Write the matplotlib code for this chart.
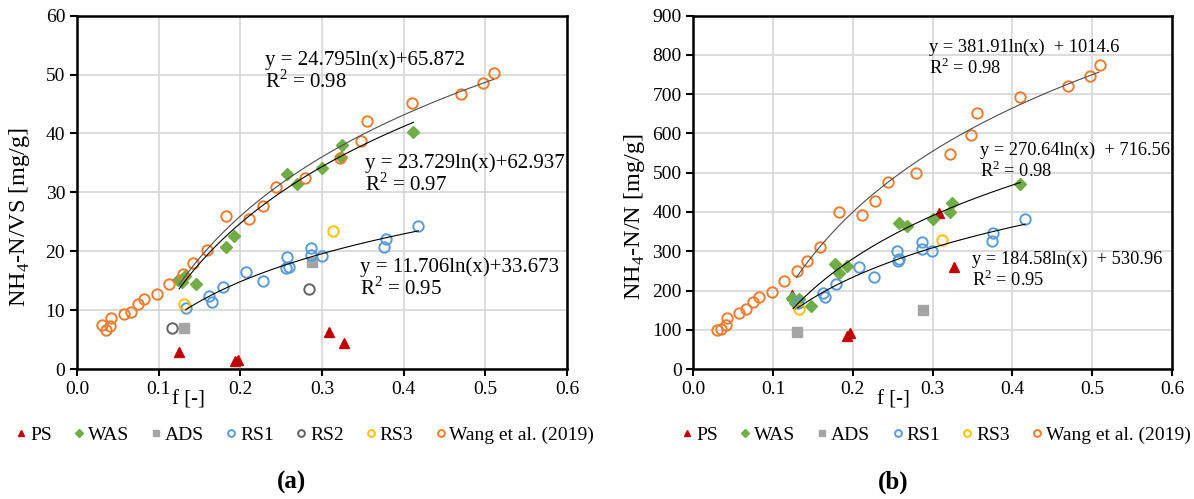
import numpy as np
import matplotlib.pyplot as plt

plt.rcParams['font.family'] = ['Liberation Serif', 'DejaVu Serif']
plt.rcParams['mathtext.fontset'] = 'custom'
plt.rcParams['mathtext.rm'] = 'Liberation Serif'

# ---- data (a): NH4-N/VS ----
wang_f = [0.030, 0.035, 0.041, 0.042, 0.057, 0.066, 0.075, 0.082, 0.098, 0.113, 0.130, 0.142, 0.159,
          0.183, 0.211, 0.228, 0.244, 0.279, 0.322, 0.348, 0.355, 0.410, 0.470, 0.497, 0.510]
wang_vs = [7.5, 6.6, 7.35, 8.6, 9.3, 9.7, 11.0, 11.9, 12.7, 14.4, 16.1, 18.0, 20.2,
           26.0, 25.5, 27.7, 30.9, 32.5, 35.9, 38.8, 42.1, 45.1, 46.7, 48.6, 50.3]
wang_n = [99, 101, 112, 129, 142, 153, 171, 184, 195, 224, 250, 276, 310,
          401, 392, 428, 476, 500, 549, 596, 651, 692, 722, 746, 774]

ps_f_a = [0.125, 0.193, 0.197, 0.309, 0.327]
ps_vs = [2.9, 1.3, 1.6, 6.3, 4.4]
was_f_a = [0.124, 0.129, 0.132, 0.146, 0.182, 0.192, 0.257, 0.269, 0.300, 0.323, 0.324, 0.412]
was_vs = [15.2, 14.7, 15.8, 14.4, 20.8, 22.6, 33.2, 31.4, 34.2, 36.0, 38.0, 40.3]
ads_f_a = [0.131, 0.288]
ads_vs = [7.0, 18.2]
rs1_f_a = [0.133, 0.162, 0.165, 0.179, 0.207, 0.228, 0.256, 0.259, 0.257, 0.286, 0.286, 0.300, 0.376, 0.378, 0.418]
rs1_vs = [10.3, 12.4, 11.4, 13.9, 16.4, 15.0, 17.2, 17.4, 19.1, 20.6, 19.3, 19.2, 20.8, 22.0, 24.3]
rs2_f_a = [0.116, 0.284]
rs2_vs = [7.0, 13.6]
rs3_f_a = [0.131, 0.314]
rs3_vs = [11.0, 23.4]

# ---- data (b): NH4-N/N ----
ps_f_b = [0.124, 0.193, 0.196, 0.308, 0.327]
ps_n = [188, 84, 93, 397, 259]
was_f_b = [0.124, 0.128, 0.133, 0.147, 0.178, 0.1825, 0.1925, 0.2575, 0.2675, 0.300, 0.322, 0.324, 0.410]
was_n = [180, 169, 178, 161, 267, 244, 262, 371, 364, 381, 399, 424, 471]
ads_f_b = [0.130, 0.288]
ads_n = [95, 150]
rs1_f_b = [0.131, 0.162, 0.165, 0.179, 0.2075, 0.227, 0.256, 0.2575, 0.255, 0.287, 0.286, 0.299, 0.374, 0.375, 0.416]
rs1_n = [167, 193, 183, 216, 261, 235, 275, 279, 301, 324, 306, 301, 326, 347, 382]
rs3_f_b = [0.1325, 0.312]
rs3_n = [152, 329]

# log trendlines: (slope, intercept, x start, x end)
fits_a = {'wang': (24.795, 65.872, 0.125, 0.51), 'was': (23.729, 62.937, 0.125, 0.412), 'rs1': (11.706, 33.673, 0.133, 0.418)}
fits_b = {'wang': (381.91, 1014.6, 0.129, 0.508), 'was': (270.64, 716.56, 0.125, 0.41), 'rs1': (184.58, 530.96, 0.131, 0.416)}

c_ps, c_was, c_ads = '#C00000', '#70AD47', '#A5A5A5'
c_rs1, c_rs2, c_rs3, c_wang = '#5B9BD5', '#636363', '#FFC000', '#ED7D31'

fig = plt.figure(figsize=(11.94, 4.99), dpi=100)
ax1 = fig.add_axes([0.0645, 0.2605, 0.4104, 0.708])
ax2 = fig.add_axes([0.5807, 0.2605, 0.4009, 0.708])

ms = 7.5
def scatter(ax, f, v, m, col, lab, filled=True, size=ms):
    if filled:
        ax.plot(f, v, ls='none', marker=m, ms=size, mfc=col, mec=col, label=lab, zorder=3)
    else:
        ax.plot(f, v, ls='none', marker='o', ms=size, mfc='none', mec=col, mew=1.4, label=lab, zorder=3)

def trend(ax, p, col='black'):
    a, b, x0, x1 = p
    xx = np.linspace(x0, x1, 100)
    ax.plot(xx, a * np.log(xx) + b, color=col, lw=0.8, zorder=4)

# panel a
scatter(ax1, ps_f_a, ps_vs, '^', c_ps, 'PS')
scatter(ax1, was_f_a, was_vs, 'D', c_was, 'WAS', size=6.5)
scatter(ax1, ads_f_a, ads_vs, 's', c_ads, 'ADS', size=6.5)
scatter(ax1, rs1_f_a, rs1_vs, 'o', c_rs1, 'RS1', False)
scatter(ax1, rs2_f_a, rs2_vs, 'o', c_rs2, 'RS2', False)
scatter(ax1, rs3_f_a, rs3_vs, 'o', c_rs3, 'RS3', False)
scatter(ax1, wang_f, wang_vs, 'o', c_wang, 'Wang et al. (2019)', False)
trend(ax1, fits_a['wang'], '#4d4d4d')
trend(ax1, fits_a['was'])
trend(ax1, fits_a['rs1'])

# panel b
scatter(ax2, ps_f_b, ps_n, '^', c_ps, 'PS')
scatter(ax2, was_f_b, was_n, 'D', c_was, 'WAS', size=6.5)
scatter(ax2, ads_f_b, ads_n, 's', c_ads, 'ADS', size=6.5)
scatter(ax2, rs1_f_b, rs1_n, 'o', c_rs1, 'RS1', False)
scatter(ax2, rs3_f_b, rs3_n, 'o', c_rs3, 'RS3', False)
scatter(ax2, wang_f, wang_n, 'o', c_wang, 'Wang et al. (2019)', False)
trend(ax2, fits_b['wang'], '#4d4d4d')
trend(ax2, fits_b['was'])
trend(ax2, fits_b['rs1'])

fs = 14
for ax, ymax, ystep in [(ax1, 60, 10), (ax2, 900, 100)]:
    ax.set_xlim(0, 0.6)
    ax.set_ylim(0, ymax)
    ax.set_xticks(np.arange(0, 0.61, 0.1))
    ax.set_xticklabels(['%.1f' % t for t in np.arange(0, 0.61, 0.1)])
    ax.set_yticks(np.arange(0, ymax + 1, ystep))
    ax.grid(True, color='#d9d9d9', lw=1.3)
    ax.set_axisbelow(True)
    for s in ax.spines.values():
        s.set_linewidth(1.8)
        s.set_color('black')
    ax.tick_params(axis='both', labelsize=fs, direction='out', length=5, width=1.5, top=False, right=False)

ax1.set_ylabel(r'NH$_\mathregular{4}$-N/VS [mg/g]', fontsize=17.5)
ax2.set_ylabel(r'NH$_\mathregular{4}$-N/N [mg/g]', fontsize=17.5)
ax1.yaxis.set_label_coords(-0.092, 0.43)
ax2.yaxis.set_label_coords(-0.097, 0.43)
ax1.text(0.227, -0.088, 'f [-]', transform=ax1.transAxes, fontsize=15, ha='center', va='center')
ax2.text(0.417, -0.088, 'f [-]', transform=ax2.transAxes, fontsize=15, ha='center', va='center')

# trendline equations
eq_a = [(0.384, 0.875, 'y = 24.795ln(x)+65.872', 'R$^\\mathregular{2}$ = 0.98'),
        (0.588, 0.583, 'y = 23.729ln(x)+62.937', 'R$^\\mathregular{2}$ = 0.97'),
        (0.578, 0.289, 'y = 11.706ln(x)+33.673', 'R$^\\mathregular{2}$ = 0.95')]
for x, y, l1, l2 in eq_a:
    ax1.text(x, y, l1, transform=ax1.transAxes, fontsize=15, va='center')
    ax1.text(x, y - 0.062, l2, transform=ax1.transAxes, fontsize=15, va='center')
eq_b = [(0.492, 0.911, 'y = 381.91ln(x)  + 1014.6', 'R$^\\mathregular{2}$ = 0.98'),
        (0.599, 0.618, 'y = 270.64ln(x)  + 716.56', 'R$^\\mathregular{2}$ = 0.98'),
        (0.582, 0.309, 'y = 184.58ln(x)  + 530.96', 'R$^\\mathregular{2}$ = 0.95')]
for x, y, l1, l2 in eq_b:
    ax2.text(x, y, l1, transform=ax2.transAxes, fontsize=13.2, va='center')
    ax2.text(x, y - 0.058, l2, transform=ax2.transAxes, fontsize=13.2, va='center')

leg_kw = dict(loc='center', frameon=False, fontsize=fs, handletextpad=0.05, columnspacing=1.0,
              handlelength=0.8, markerscale=0.65)
ax1.legend(ncol=7, bbox_to_anchor=(0.463, -0.187), **leg_kw)
ax2.legend(ncol=6, bbox_to_anchor=(0.505, -0.187), **leg_kw)

fig.text(292 / 1194, 1 - 482 / 499, '(a)', fontsize=18, fontweight='bold', ha='center', va='center')
fig.text(893 / 1194, 1 - 482 / 499, '(b)', fontsize=18, fontweight='bold', ha='center', va='center')

fig.savefig('out.png', dpi=100)
